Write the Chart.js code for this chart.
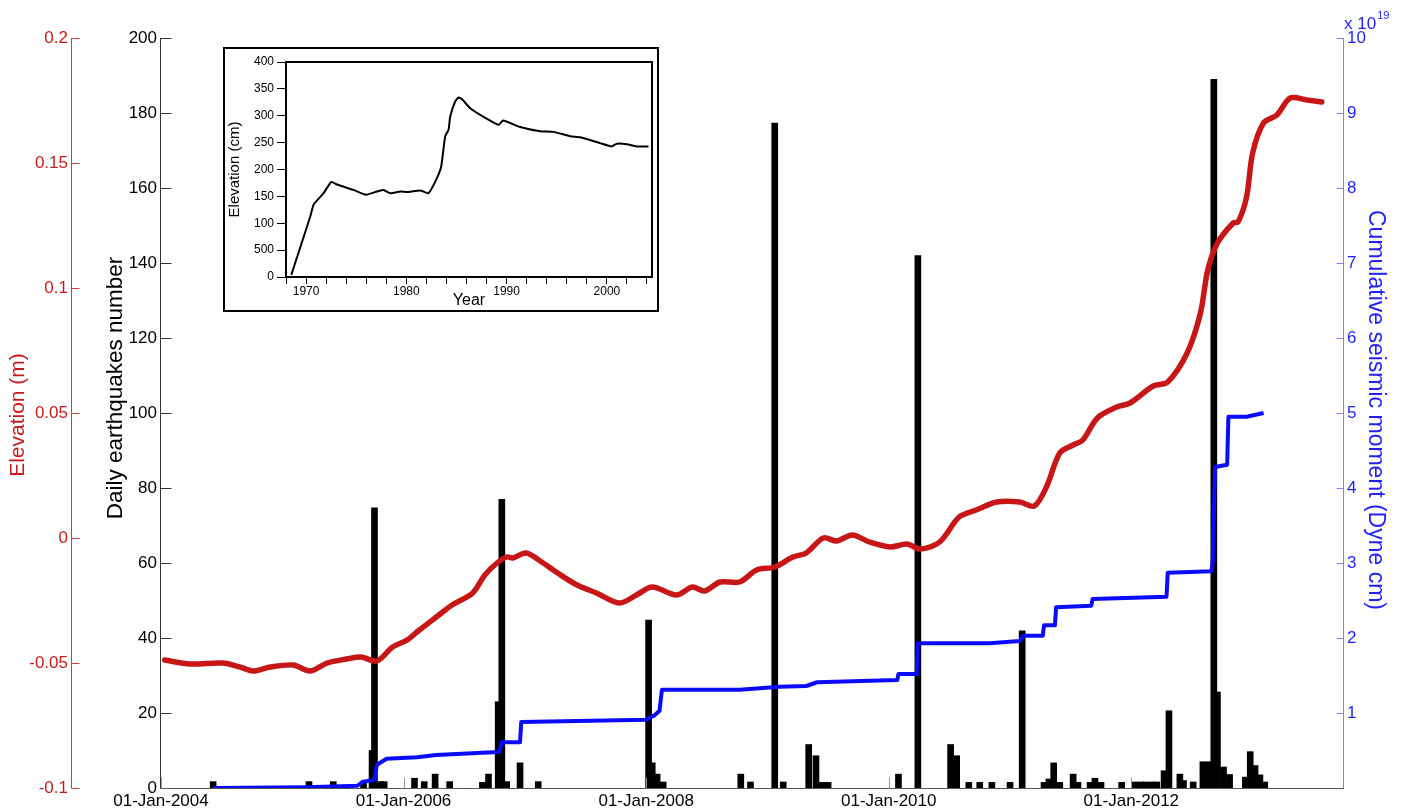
<!DOCTYPE html>
<html><head><meta charset="utf-8">
<script src="https://cdn.jsdelivr.net/npm/chart.js@4.4.1/dist/chart.umd.min.js"></script>
<style>
html,body{margin:0;padding:0;background:#fff;}
#wrap{position:relative;width:1402px;height:812px;overflow:hidden;}
#main{position:absolute;left:0;top:0;}
#insetBox{position:absolute;left:223px;top:47px;width:436px;height:265px;box-sizing:border-box;border:2px solid #000;background:#fff;}
#inset{display:block;}
</style></head><body>
<div id="wrap">
<canvas id="main" width="1402" height="812"></canvas>
<div id="insetBox"><canvas id="inset" width="432" height="261"></canvas></div>
</div>
<script>
// ---------- main chart data ----------
const xTickYears = [2004, 2006, 2008, 2010, 2012];
const xTickLabels = ['01-Jan-2004', '01-Jan-2006', '01-Jan-2008', '01-Jan-2010', '01-Jan-2012'];
const elevTicks = [-0.1, -0.05, 0, 0.05, 0.1, 0.15, 0.2];
const elevTickLabels = ['-0.1', '-0.05', '0', '0.05', '0.1', '0.15', '0.2'];
const countTicks = [0, 20, 40, 60, 80, 100, 120, 140, 160, 180, 200];
const momentTicks = [1, 2, 3, 4, 5, 6, 7, 8, 9, 10];

const quakeDates = [
  2004.43, 2005.22, 2005.42, 2005.67, 2005.74, 2005.76, 2005.81, 2005.84, 2006.09, 2006.17,
  2006.26, 2006.38, 2006.65, 2006.70, 2006.78, 2006.81, 2006.85, 2006.96, 2007.11, 2008.02,
  2008.05, 2008.09, 2008.14, 2008.78, 2008.86, 2009.06, 2009.13, 2009.34, 2009.40, 2009.45,
  2009.50, 2010.08, 2010.24, 2010.51, 2010.56, 2010.66, 2010.75, 2010.85, 2011.00, 2011.10,
  2011.28, 2011.32, 2011.36, 2011.41, 2011.52, 2011.56, 2011.66, 2011.70, 2011.75, 2011.92,
  2012.03, 2012.08, 2012.12, 2012.17, 2012.21, 2012.27, 2012.31, 2012.40, 2012.43, 2012.51,
  2012.59, 2012.64, 2012.68, 2012.71, 2012.76, 2012.81, 2012.94, 2012.98, 2013.02, 2013.06,
  2013.10
];
const quakeCounts = [
  1.7, 1.7, 1.7, 1.6, 10, 74.7, 1.7, 1.7, 2.6, 1.7,
  3.7, 1.7, 1.5, 3.7, 23, 77, 1.7, 6.7, 1.7, 44.8,
  6.7, 3.7, 1.6, 3.7, 1.6, 177.3, 1.6, 11.6, 8.6, 1.5,
  1.5, 3.7, 142, 11.6, 8.6, 1.5, 1.5, 1.5, 1.5, 41.9,
  1.5, 2.4, 6.7, 1.5, 3.7, 1.5, 1.5, 2.6, 1.5, 1.5,
  1.6, 1.6, 1.6, 1.6, 1.6, 4.6, 20.6, 3.7, 2, 1.6,
  7, 7, 189, 25.6, 5.6, 3.6, 2.9, 9.7, 6, 3.5,
  1.6
];

const elevDates = [
  2004.03, 2004.24, 2004.51, 2004.65, 2004.76, 2004.90, 2005.09, 2005.23, 2005.37, 2005.53,
  2005.65, 2005.78, 2005.91, 2006.03, 2006.13, 2006.27, 2006.40, 2006.57, 2006.67, 2006.77,
  2006.85, 2006.90, 2007.01, 2007.15, 2007.27, 2007.43, 2007.59, 2007.78, 2007.92, 2008.05,
  2008.25, 2008.38, 2008.48, 2008.61, 2008.77, 2008.91, 2009.06, 2009.21, 2009.32, 2009.46,
  2009.57, 2009.70, 2009.84, 2010.01, 2010.15, 2010.26, 2010.42, 2010.58, 2010.72, 2010.89,
  2011.08, 2011.20, 2011.30, 2011.41, 2011.52, 2011.60, 2011.72, 2011.88, 2011.99, 2012.18,
  2012.30, 2012.46, 2012.57, 2012.63, 2012.71, 2012.84, 2012.88, 2012.95, 2013.00, 2013.09,
  2013.20, 2013.31, 2013.45, 2013.57
];
const elevValues = [
  -0.0488, -0.0504, -0.0500, -0.0516, -0.0532, -0.0516, -0.0508, -0.0532, -0.0500, -0.0484,
  -0.0476, -0.0492, -0.0436, -0.0408, -0.0368, -0.0316, -0.0268, -0.0220, -0.0148, -0.0100,
  -0.0076, -0.0080, -0.0060, -0.0100, -0.0140, -0.0188, -0.0220, -0.0260, -0.0228, -0.0196,
  -0.0228, -0.0196, -0.0212, -0.0176, -0.0176, -0.0128, -0.0116, -0.0076, -0.0060, 0.0000,
  -0.0012, 0.0012, -0.0016, -0.0036, -0.0024, -0.0044, -0.0016, 0.0084, 0.0112, 0.0144,
  0.0144, 0.0128, 0.0204, 0.0340, 0.0372, 0.0392, 0.0480, 0.0524, 0.0540, 0.0608,
  0.0624, 0.0740, 0.0900, 0.1072, 0.1180, 0.1260, 0.1264, 0.1364, 0.1540, 0.1660,
  0.1692, 0.1760, 0.1752, 0.1744
];

const momentDates = [
  2004.43, 2005.20, 2005.62, 2005.66, 2005.76, 2005.78, 2005.86, 2006.11, 2006.27, 2006.65,
  2006.79, 2006.81, 2006.96, 2006.97, 2008.00, 2008.07, 2008.11, 2008.13, 2008.77, 2009.10,
  2009.32, 2009.41, 2010.07, 2010.08, 2010.23, 2010.24, 2010.83, 2011.08, 2011.11, 2011.27,
  2011.28, 2011.37, 2011.38, 2011.67, 2011.68, 2012.29, 2012.30, 2012.66, 2012.67, 2012.69,
  2012.79, 2012.80, 2012.95, 2013.09
];
const momentValues = [
  0, 0.01, 0.03, 0.08, 0.11, 0.31, 0.39, 0.41, 0.44, 0.47,
  0.48, 0.61, 0.61, 0.88, 0.91, 0.97, 1.03, 1.31, 1.31, 1.35,
  1.36, 1.41, 1.44, 1.52, 1.52, 1.93, 1.93, 1.96, 2.03, 2.03,
  2.17, 2.17, 2.41, 2.43, 2.52, 2.55, 2.87, 2.89, 3.00, 4.28,
  4.31, 4.95, 4.95, 5.00
];

// ---------- inset data ----------
const insetYears = [
  1968.53, 1970.43, 1970.76, 1971.75, 1972.52, 1973.08, 1974.74, 1975.97, 1977.07, 1977.73,
  1978.40, 1979.40, 1980.06, 1981.39, 1982.22, 1983.05, 1983.48, 1983.88, 1984.21, 1984.38,
  1984.88, 1985.21, 1985.54, 1986.37, 1987.70, 1989.20, 1989.63, 1991.36, 1993.35, 1994.68,
  1996.34, 1997.34, 1999.33, 2000.49, 2000.99, 2001.99, 2002.98, 2004.15
];
const insetElev = [
  4, 113, 135, 156, 177, 172, 162, 153, 159, 162,
  156, 159, 158, 161, 156, 184, 206, 262, 274, 299,
  327, 334, 331, 314, 298, 283, 291, 279, 271, 270,
  262, 260, 249, 243, 248, 247, 243, 243
];
const insetYTicks = [0, 50, 100, 150, 200, 250, 300, 350, 400];
const insetYTickLabels = ['0', '500', '100', '150', '200', '250', '300', '350', '400'];
const insetXTicks = [1968, 1970, 1972, 1974, 1976, 1978, 1980, 1982, 1984, 1986, 1988, 1990, 1992, 1994, 1996, 1998, 2000, 2002, 2004];
const insetXLabelYears = [1970, 1980, 1990, 2000];

// ---------- styles ----------
const FONT = "'Liberation Sans', Arial, Helvetica, sans-serif";
Chart.defaults.font.family = FONT;
const RED = '#cc1a1a';
const RED_LINE = '#c81616';
const RED_AXIS = '#d43a3a';
const BLUE = '#1f1fff';
const BLUE_LINE = '#0a0aff';
const BLUE_AXIS = '#8080ff';
const BLACK = '#000000';

const pts = (xs, ys) => xs.map((x, i) => ({x: x, y: ys[i]}));

const decor = {
  id: 'decor',
  afterDraw(chart) {
    const {ctx, scales} = chart;
    const sE = scales.yElev, sC = scales.yCount, sM = scales.yMoment, sX = scales.x;
    const r = v => Math.round(v) + 0.5;
    ctx.save();
    ctx.lineWidth = 1;
    // elevation axis (red), ticks pointing right
    ctx.strokeStyle = RED_AXIS;
    ctx.beginPath();
    const xe = r(sE.right - 1);
    ctx.moveTo(xe, sE.top); ctx.lineTo(xe, sE.bottom + 0.5);
    elevTicks.forEach(v => { const y = r(sE.getPixelForValue(v)); ctx.moveTo(xe, y); ctx.lineTo(xe + 8, y); });
    ctx.stroke();
    // count axis (black), ticks inward
    ctx.strokeStyle = '#333';
    ctx.beginPath();
    const xc = r(sC.right - 1);
    ctx.moveTo(xc, sC.top); ctx.lineTo(xc, sC.bottom + 0.5);
    countTicks.forEach(v => { const y = r(sC.getPixelForValue(v)); ctx.moveTo(xc, y); ctx.lineTo(xc + 11, y); });
    ctx.stroke();
    // moment axis (blue), ticks inward
    ctx.strokeStyle = BLUE_AXIS;
    ctx.beginPath();
    const xm = r(sM.left);
    ctx.moveTo(xm, sM.top); ctx.lineTo(xm, sM.bottom + 0.5);
    momentTicks.forEach(v => { const y = r(sM.getPixelForValue(v)); ctx.moveTo(xm, y); ctx.lineTo(xm - 7, y); });
    ctx.stroke();
    // x axis
    ctx.strokeStyle = '#555';
    ctx.beginPath();
    const yb = r(sX.top);
    ctx.moveTo(sX.left, yb); ctx.lineTo(sX.right + 1, yb);
    ctx.stroke();
    ctx.strokeStyle = '#999';
    ctx.beginPath();
    xTickYears.forEach(v => { const x = r(sX.getPixelForValue(v)); ctx.moveTo(x, yb); ctx.lineTo(x, yb - 11); });
    ctx.stroke();

    // axis titles
    const vText = (text, x, y, rot, size, color) => {
      ctx.save(); ctx.translate(x, y); ctx.rotate(rot);
      ctx.font = size + 'px ' + FONT; ctx.fillStyle = color;
      ctx.textAlign = 'center'; ctx.textBaseline = 'middle';
      ctx.fillText(text, 0, 0); ctx.restore();
    };
    vText('Elevation (m)', 18, 415, -Math.PI / 2, 21, RED);
    vText('Daily earthquakes number', 116, 388, -Math.PI / 2, 22.5, BLACK);
    vText('Cumulative seismic moment (Dyne cm)', 1375, 410, Math.PI / 2, 23, BLUE);

    // exponent label
    ctx.fillStyle = BLUE;
    ctx.textAlign = 'left'; ctx.textBaseline = 'alphabetic';
    ctx.font = '17px ' + FONT;
    ctx.fillText('x 10', 1344, 29);
    const w = ctx.measureText('x 10').width;
    ctx.font = '11px ' + FONT;
    ctx.fillText('19', 1344 + w + 1, 19);
    ctx.restore();
  }
};

new Chart(document.getElementById('main'), {
  type: 'bar',
  data: {
    datasets: [
      {
        type: 'line', label: 'Elevation', data: pts(elevDates, elevValues), yAxisID: 'yElev',
        borderColor: RED_LINE, borderWidth: 5.5, pointRadius: 0, tension: 0.3, order: 0,
        borderCapStyle: 'round', borderJoinStyle: 'round'
      },
      {
        type: 'line', label: 'Cumulative moment', data: pts(momentDates, momentValues), yAxisID: 'yMoment',
        borderColor: BLUE_LINE, borderWidth: 4, pointRadius: 0, tension: 0, order: 1,
        borderJoinStyle: 'round'
      },
      {
        type: 'bar', label: 'Daily earthquakes', data: pts(quakeDates, quakeCounts), yAxisID: 'yCount',
        backgroundColor: BLACK, borderWidth: 0, barThickness: 6, order: 2
      }
    ]
  },
  options: {
    responsive: false, animation: false, devicePixelRatio: 1,
    layout: {padding: {top: 38, left: 0, right: 0, bottom: 0}},
    plugins: {legend: {display: false}, tooltip: {enabled: false}},
    events: [],
    scales: {
      x: {
        type: 'linear', position: 'bottom', min: 2004, max: 2013.745, offset: false,
        grid: {display: false, drawTicks: false, offset: false}, border: {display: false},
        afterBuildTicks: s => { s.ticks = xTickYears.map(v => ({value: v})); },
        ticks: {
          autoSkip: false, maxRotation: 0, padding: 3, color: BLACK, font: {size: 17},
          callback: (v, i) => xTickLabels[i]
        },
        afterFit: s => { s.height = 24; }
      },
      yElev: {
        type: 'linear', position: 'left', weight: 2, min: -0.1, max: 0.2,
        grid: {display: false, drawTicks: false}, border: {display: false},
        afterBuildTicks: s => { s.ticks = elevTicks.map(v => ({value: v})); },
        ticks: {padding: 4, color: RED, font: {size: 17}, callback: (v, i) => elevTickLabels[i]},
        afterFit: s => { s.width = 72; }
      },
      yCount: {
        type: 'linear', position: 'left', weight: 1, min: 0, max: 200,
        grid: {display: false, drawTicks: false}, border: {display: false},
        afterBuildTicks: s => { s.ticks = countTicks.map(v => ({value: v})); },
        ticks: {padding: 4, color: BLACK, font: {size: 17}, callback: v => String(v)},
        afterFit: s => { s.width = 89; }
      },
      yMoment: {
        type: 'linear', position: 'right', weight: 1, min: 0, max: 10,
        grid: {display: false, drawTicks: false}, border: {display: false},
        afterBuildTicks: s => { s.ticks = momentTicks.map(v => ({value: v})); },
        ticks: {padding: 4, color: BLUE, font: {size: 17}, callback: v => String(v)},
        afterFit: s => { s.width = 59; }
      }
    }
  },
  plugins: [decor]
});

// ---------- inset chart ----------
const insetFrame = {
  id: 'insetFrame',
  afterDraw(chart) {
    const {ctx, chartArea: a} = chart;
    ctx.save();
    ctx.strokeStyle = '#000'; ctx.lineWidth = 2;
    ctx.strokeRect(Math.round(a.left), Math.round(a.top), Math.round(a.right - a.left), Math.round(a.bottom - a.top));
    ctx.restore();
  }
};

new Chart(document.getElementById('inset'), {
  type: 'line',
  data: {datasets: [{
    data: pts(insetYears, insetElev), borderColor: '#000', borderWidth: 2,
    pointRadius: 0, tension: 0.15
  }]},
  options: {
    responsive: false, animation: false, devicePixelRatio: 1, events: [],
    layout: {padding: {top: 13, right: 5, left: 0, bottom: 0}},
    plugins: {legend: {display: false}, tooltip: {enabled: false}},
    scales: {
      x: {
        type: 'linear', min: 1968, max: 2004.5,
        grid: {display: true, drawOnChartArea: false, drawTicks: true, tickLength: 7, color: '#000', lineWidth: 1},
        border: {display: false},
        afterBuildTicks: s => { s.ticks = insetXTicks.map(v => ({value: v})); },
        ticks: {
          autoSkip: false, maxRotation: 0, padding: 0, color: '#000', font: {size: 12},
          callback: v => insetXLabelYears.includes(v) ? String(v) : ''
        },
        title: {display: true, text: 'Year', color: '#000', font: {size: 16}, padding: 0},
        afterFit: s => { s.height = 33; }
      },
      y: {
        type: 'linear', min: 0, max: 400,
        grid: {display: true, drawOnChartArea: false, drawTicks: true, tickLength: 9, color: '#000', lineWidth: 1},
        border: {display: false},
        afterBuildTicks: s => { s.ticks = insetYTicks.map(v => ({value: v})); },
        ticks: {padding: 3, color: '#000', font: {size: 12}, callback: (v, i) => insetYTickLabels[i]},
        title: {display: true, text: 'Elevation (cm)', color: '#000', font: {size: 15}, padding: {top: 1, bottom: 0}},
        afterFit: s => { s.width = 61; }
      }
    }
  },
  plugins: [insetFrame]
});
</script>
</body></html>
